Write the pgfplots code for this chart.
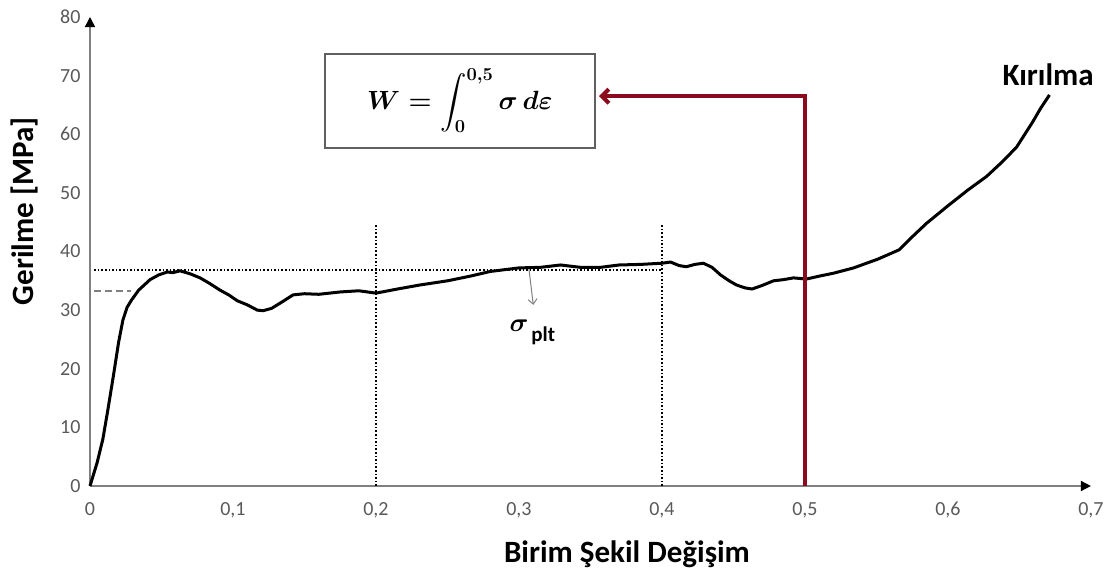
\documentclass[border=0pt]{standalone}
\usepackage{amsmath}
\usepackage{pgfplots}
\pgfplotsset{compat=1.18}
\usepackage{fontspec}
\setmainfont{Carlito}
\usetikzlibrary{arrows.meta}
\definecolor{ticklab}{HTML}{595959}
\definecolor{axisgray}{HTML}{808080}
\definecolor{boxgray}{HTML}{606060}
\definecolor{darkred}{HTML}{8B0A1E}
\tikzset{
  axarrow/.style={-{Triangle[width=10pt,length=10pt,color=black]}},
  redarrow/.style={-{Straight Barb[length=7pt,width=14pt]}},
  grayarrow/.style={-{Straight Barb[length=5pt,width=9pt]}},
}
\begin{document}
\begin{tikzpicture}
\begin{axis}[
  scale only axis,
  width=1001pt, height=469pt,
  xmin=0, xmax=0.7, ymin=0, ymax=80,
  axis lines=left,
  axis line style={draw=axisgray, line width=1.5pt, axarrow},
  xtick={0,0.1,0.2,0.3,0.4,0.5,0.6,0.7},
  ytick={0,10,20,30,40,50,60,70,80},
  xticklabels={0,{0,1},{0,2},{0,3},{0,4},{0,5},{0,6},{0,7}},
  major tick length=0pt,
  tick label style={font=\fontsize{20}{23}\selectfont, text=ticklab},
  /pgf/number format/assume math mode=true,
  yticklabel style={xshift=-6pt},
  xticklabel style={anchor=base, yshift=-29pt},
  clip=false,
  xlabel={Birim Şekil Değişim},
  ylabel={Gerilme [MPa]},
  xlabel style={font=\fontsize{31}{34}\selectfont\bfseries, at={(axis description cs:0.5365,-0.145)}, anchor=center},
  ylabel style={font=\fontsize{31}{34}\selectfont\bfseries, at={(axis description cs:-0.065,0.586)}, anchor=center},
]
\addplot[black, dotted, line width=1.6pt] coordinates {(0.003,36.8) (0.4,36.8)};
\addplot[axisgray, line width=1.5pt, dash pattern=on 7pt off 4pt] coordinates {(0.003,33.3) (0.029,33.3)};
\addplot[black, dotted, line width=1.6pt] coordinates {(0.2,0) (0.2,44.5)};
\addplot[black, dotted, line width=1.6pt] coordinates {(0.4,0) (0.4,44.5)};
\addplot[black, line width=3pt, line join=round] coordinates {
(0,0) (0.005,4) (0.009,8) (0.0125,13) (0.0165,19) (0.02,24.5) (0.023,28.3)
(0.026,30.5) (0.029,31.7) (0.034,33.4) (0.042,35.2) (0.048,36.0) (0.054,36.5)
(0.058,36.4) (0.063,36.7) (0.07,36.2) (0.077,35.5) (0.084,34.5) (0.091,33.4)
(0.097,32.6) (0.103,31.6) (0.11,30.9) (0.117,30.0) (0.121,29.9) (0.127,30.3)
(0.135,31.5) (0.142,32.6) (0.150,32.8) (0.16,32.7) (0.175,33.1) (0.188,33.3)
(0.2,32.9) (0.215,33.6) (0.231,34.3) (0.25,35.0) (0.266,35.8) (0.28,36.6)
(0.3,37.2) (0.315,37.3) (0.329,37.7) (0.343,37.3) (0.357,37.3) (0.37,37.7)
(0.385,37.8) (0.4,38.0) (0.406,38.2) (0.412,37.6) (0.417,37.4) (0.423,37.8)
(0.429,38.0) (0.435,37.3) (0.441,36.0) (0.447,35.0) (0.452,34.3) (0.458,33.8)
(0.463,33.6) (0.47,34.2) (0.478,35.0) (0.485,35.2) (0.492,35.5) (0.501,35.3)
(0.51,35.8) (0.52,36.3) (0.534,37.2) (0.551,38.7) (0.566,40.3) (0.575,42.5)
(0.585,44.8) (0.6,47.8) (0.614,50.5) (0.627,52.8) (0.638,55.3) (0.648,57.8)
(0.659,62) (0.665,64.5) (0.671,66.7)};
\addplot[darkred, line width=4pt, redarrow] coordinates {(0.5,0) (0.5,66.5) (0.356,66.5)};
\addplot[axisgray, line width=1pt, grayarrow] coordinates {(0.307,37.0) (0.310,30.9)};
\end{axis}
\begin{scope}[x=1430pt, y=5.8625pt]
\path (0.2587,65.7) node[draw=boxgray, line width=1.8pt, fill=white, minimum width=270pt, minimum height=94pt, inner sep=0pt] {};
\path (0.2587,65.7) node[scale=1.06, font=\fontsize{24}{28}\selectfont\boldmath] {$\displaystyle W = \int_{\mathbf{0}}^{\mathbf{0{,}5}} \sigma\, d\varepsilon$};
\path (0.670,70.1) node[font=\fontsize{31}{34}\selectfont\bfseries] {Kırılma};
\path (0.3000,27.3) node[scale=1.05, font=\fontsize{24}{28}\selectfont] {$\boldsymbol{\sigma}$};
\path (0.3170,25.6) node[font=\fontsize{21}{24}\selectfont\bfseries] {plt};
\end{scope}
\pgfresetboundingbox
\path[use as bounding box] (-90pt,-88pt) rectangle (1019pt,486pt);
\end{tikzpicture}
\end{document}
